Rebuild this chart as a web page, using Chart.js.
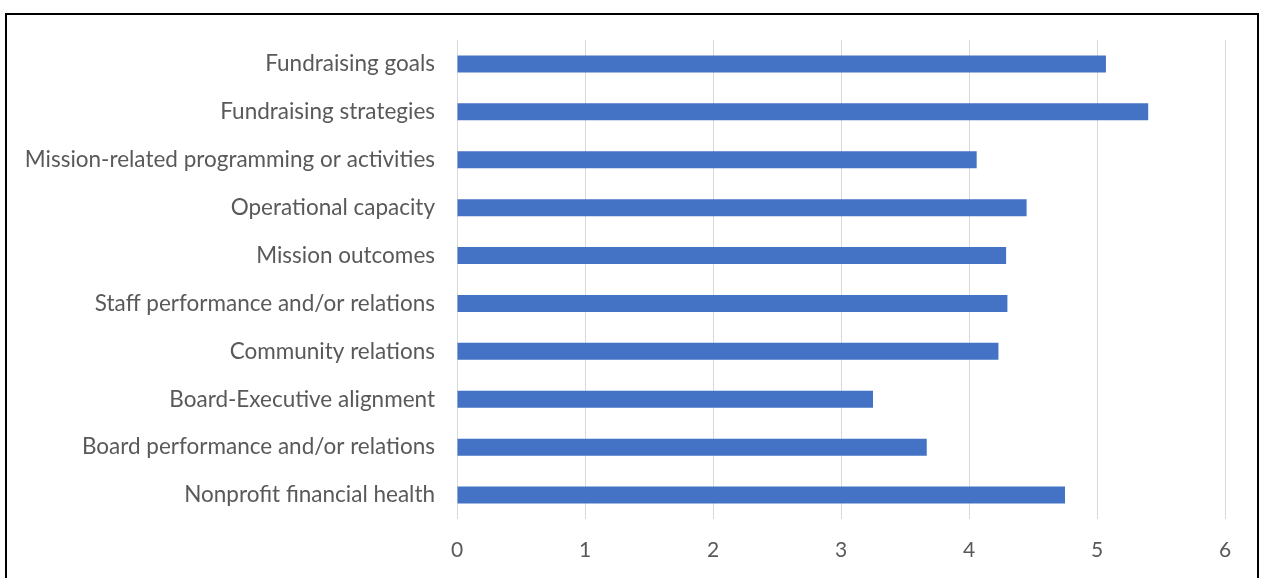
<!DOCTYPE html>
<html>
<head>
<meta charset="utf-8">
<script src="https://cdn.jsdelivr.net/npm/chart.js@4"></script>
<style>
  html, body { margin: 0; padding: 0; background: #fff; overflow: hidden; }
  .frame {
    position: absolute;
    left: 5px;
    top: 13px;
    width: 1250px;
    height: 600px;
    border: 2px solid #000;
  }
  canvas { display: block; }
</style>
</head>
<body>
<div class="frame">
  <canvas id="chart" width="1248" height="563"></canvas>
</div>
<script>
const categories = [
  'Fundraising goals',
  'Fundraising strategies',
  'Mission-related programming or activities',
  'Operational capacity',
  'Mission outcomes',
  'Staff performance and/or relations',
  'Community relations',
  'Board-Executive alignment',
  'Board performance and/or relations',
  'Nonprofit financial health',
]
const scores = [5.07, 5.40, 4.06, 4.45, 4.29, 4.30, 4.23, 3.25, 3.67, 4.75]
const xTicks = [0, 1, 2, 3, 4, 5, 6]

const font = { family: 'Lato', size: 22.5 }

const myChart = new Chart(document.getElementById('chart'), {
  type: 'bar',
  data: {
    labels: categories,
    datasets: [
      {
        data: scores,
        backgroundColor: '#4472C4',
        borderWidth: 0,
        barPercentage: 0.5,
        categoryPercentage: 0.71,
      },
    ],
  },
  options: {
    indexAxis: 'y',
    responsive: false,
    animation: false,
    layout: { padding: { top: 25, right: 30, left: 0, bottom: 0 } },
    plugins: { legend: { display: false }, tooltip: { enabled: false } },
    scales: {
      x: {
        min: xTicks[0],
        max: xTicks[xTicks.length - 1],
        afterBuildTicks: (axis) => { axis.ticks = xTicks.map((v) => ({ value: v })) },
        grid: { color: '#d9d9d9', lineWidth: 1, drawTicks: false },
        border: { display: false },
        ticks: { color: '#595959', font: { family: 'Lato', size: 21 }, padding: 19 },
        afterFit: (axis) => { axis.height = 59 },
      },
      y: {
        grid: { display: false, drawTicks: false },
        border: { display: false },
        ticks: { color: '#595959', font: font, padding: 22, autoSkip: false },
        afterFit: (axis) => {
          axis.width = 450
          axis.paddingTop = 0
          axis.paddingBottom = 0
        },
      },
    },
  },
})
</script>
</body>
</html>
